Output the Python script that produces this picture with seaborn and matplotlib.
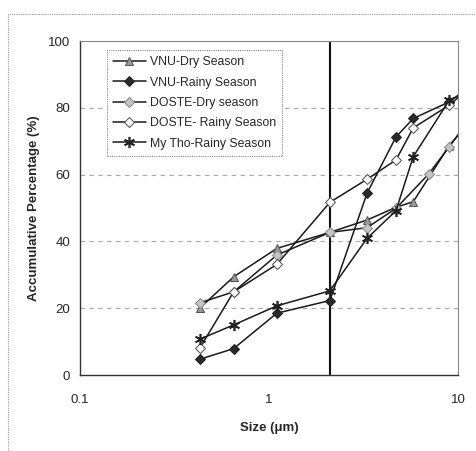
import numpy as np
import pandas as pd
import matplotlib
matplotlib.use("Agg")
import matplotlib.pyplot as plt
from matplotlib.patches import Rectangle
from matplotlib.ticker import FixedLocator, FixedFormatter, LogLocator, NullFormatter
import seaborn as sns

# ---- data ----
sizes_std = [0.43, 0.65, 1.1, 2.1, 3.3, 4.7, 5.8, 9.0, 11.0]
sizes_doste_dry = [0.43, 0.65, 1.1, 2.1, 3.3, 4.7, 7.0, 9.0, 11.0]

vnu_dry = [20.0, 29.4, 37.9, 42.7, 46.4, 50.2, 51.9, 68.7, 74.5]
vnu_rainy = [4.7, 7.9, 18.5, 22.3, 54.4, 71.3, 76.8, 81.8, 85.5]
doste_dry = [21.6, 24.9, 35.9, 42.7, 44.1, 49.9, 60.2, 68.4, 75.0]
doste_rainy = [8.0, 24.9, 33.1, 51.7, 58.6, 64.4, 74.0, 80.8, 85.0]
mytho_rainy = [10.7, 15.0, 20.7, 25.2, 40.9, 49.2, 65.4, 82.3, 84.5]

series_names = ["VNU-Dry Season", "VNU-Rainy Season", "DOSTE-Dry season",
                "DOSTE- Rainy Season", "My Tho-Rainy Season"]
cutoff_size = 2.1
y_ticks = [0, 20, 40, 60, 80, 100]
x_ticks = [0.1, 1, 10]
x_tick_labels = ["0.1", "1", "10"]

frames = []
for name, xs, ys in [
    (series_names[0], sizes_std, vnu_dry),
    (series_names[1], sizes_std, vnu_rainy),
    (series_names[2], sizes_doste_dry, doste_dry),
    (series_names[3], sizes_std, doste_rainy),
    (series_names[4], sizes_std, mytho_rainy),
]:
    frames.append(pd.DataFrame({"size": xs, "pct": ys, "series": name}))
df = pd.concat(frames, ignore_index=True)

styles = {
    series_names[0]: dict(marker="^", markersize=6, markerfacecolor="#9a9a9a", markeredgecolor="#555555"),
    series_names[1]: dict(marker="D", markersize=5, markerfacecolor="#2a2a2a", markeredgecolor="#222222"),
    series_names[2]: dict(marker="D", markersize=5, markerfacecolor="#c4c4c4", markeredgecolor="#8a8a8a"),
    series_names[3]: dict(marker="D", markersize=5, markerfacecolor="white", markeredgecolor="#555555"),
    series_names[4]: dict(marker=(6, 2, 0), markersize=8, markerfacecolor="none", markeredgecolor="#222222",
                          markeredgewidth=1.2),
}

sns.set_style("white")
plt.rcParams["font.family"] = ["Liberation Sans", "DejaVu Sans"]

fig = plt.figure(figsize=(4.76, 4.51), dpi=100)
ax = fig.add_axes([80 / 476, 1 - 375 / 451, 378 / 476, 334 / 451])

for name in series_names:
    sub = df[df["series"] == name]
    sns.lineplot(data=sub, x="size", y="pct", ax=ax, color="#1a1a1a", linewidth=1.1,
                 label=name, sort=False, estimator=None, **styles[name])

ax.axvline(cutoff_size, color="#111111", linewidth=1.5, zorder=1)

ax.set_xscale("log")
ax.set_xlim(0.1, 10)
ax.set_ylim(0, 100)
ax.xaxis.set_major_locator(FixedLocator(x_ticks))
ax.xaxis.set_major_formatter(FixedFormatter(x_tick_labels))
ax.xaxis.set_minor_locator(LogLocator(base=10, subs=np.arange(2, 10)))
ax.xaxis.set_minor_formatter(NullFormatter())
ax.set_yticks(y_ticks)

for yv in y_ticks[1:-1]:
    ax.axhline(yv, color="#a8a8a8", linewidth=0.8, linestyle=(0, (4, 4)), zorder=0)

ax.tick_params(axis="both", which="major", labelsize=9.5, length=3, direction="out",
               color="#555555")
ax.tick_params(axis="y", which="major", pad=4)
ax.tick_params(axis="x", which="minor", length=2, direction="out", color="#777777")
ax.tick_params(axis="x", which="major", pad=11)

for s in ["left", "bottom"]:
    ax.spines[s].set_color("#333333")
    ax.spines[s].set_linewidth(1.0)
for s in ["top", "right"]:
    ax.spines[s].set_color("#888888")
    ax.spines[s].set_linewidth(0.8)
    ax.spines[s].set_linestyle((0, (1, 1)))

ax.set_xlabel("Size (\u03bcm)", fontsize=9.5, fontweight="bold", labelpad=11)
ax.set_ylabel("Accumulative Percentage (%)", fontsize=9.5, fontweight="bold", labelpad=6)

leg = ax.legend(loc="upper left", bbox_to_anchor=(0.071, 0.972), fontsize=8.8,
                frameon=True, fancybox=False, handlelength=2.7, handletextpad=0.3,
                labelspacing=0.68, borderpad=0.5, borderaxespad=0)
leg.get_frame().set_edgecolor("#888888")
leg.get_frame().set_linestyle((0, (1, 1)))
leg.get_frame().set_linewidth(0.8)
leg.get_frame().set_facecolor("white")
leg.get_frame().set_alpha(1)

fig.patches.append(Rectangle((8 / 476, -0.05), 1.2, (451 - 14) / 451 + 0.05,
                             transform=fig.transFigure, fill=False,
                             edgecolor="#999999", linewidth=0.8, linestyle=(0, (1, 1))))

fig.savefig("out.png", dpi=100)
